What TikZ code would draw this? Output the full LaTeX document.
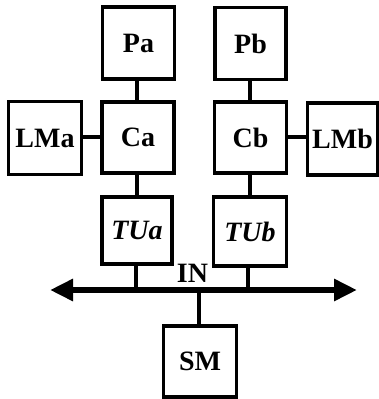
\documentclass[tikz,border=0pt]{standalone}
\usepackage{fontspec}
\setmainfont{Liberation Serif}
\usetikzlibrary{arrows.meta}
\begin{document}
\begin{tikzpicture}[x=1pt,y=-1pt,
  label text/.style={font=\fontsize{28}{30}\selectfont\bfseries},
  unit/.style={draw,line width=3.6pt,rectangle,inner sep=0pt,outer sep=0pt,label text},
  link/.style={line width=3.4pt},
  bus/.style={line width=6.5pt,{Triangle[length=23pt,width=21pt]}-{Triangle[length=23pt,width=21pt]}}]
\useasboundingbox (0,0) rectangle (379,399);
% processors, controllers and local memories
\node[unit,minimum width=72pt,minimum height=72pt] (Pa) at (138.5,43) {Pa};
\node[unit,minimum width=71pt,minimum height=72pt] (Pb) at (250.5,43.5) {Pb};
\node[unit,minimum width=72pt,minimum height=71pt] (Ca) at (138,137.5) {Ca};
\node[unit,minimum width=72pt,minimum height=71pt] (Cb) at (250.5,137.5) {Cb};
\node[unit,minimum width=73pt,minimum height=73pt] (LMa) at (45,138) {LMa};
\node[unit,minimum width=70pt,minimum height=72pt] (LMb) at (342.5,139) {LMb};
% transfer units
\node[unit,minimum width=70pt,minimum height=67pt] (TUa) at (137,230.5) {\itshape TUa};
\node[unit,minimum width=73pt,minimum height=69pt] (TUb) at (250,231.5) {\itshape TUb};
% shared memory
\node[unit,minimum width=73pt,minimum height=71pt] (SM) at (200,361.5) {SM};
% interconnection network
\coordinate (busL) at (50,290);
\coordinate (busR) at (357,290);
\draw[bus] (busL) -- (busR);
\node[label text,inner sep=0pt] (IN) at (192.5,273) {IN};
% links
\draw[link] (Pa.south -| 137,0) -- (Ca.north -| 137,0);
\draw[link] (Pb.south -| 250,0) -- (Cb.north -| 250,0);
\draw[link] (LMa.east |- 0,137) -- (Ca.west |- 0,137);
\draw[link] (Cb.east |- 0,137) -- (LMb.west |- 0,137);
\draw[link] (Ca.south -| 137,0) -- (TUa.north -| 137,0);
\draw[link] (Cb.south -| 250,0) -- (TUb.north -| 250,0);
\draw[link] (TUa.south -| 136,0) -- (busL -| 136,0);
\draw[link] (TUb.south -| 248,0) -- (busL -| 248,0);
\draw[link] (SM.north -| 199,0) -- (busL -| 199,0);
\end{tikzpicture}
\end{document}
